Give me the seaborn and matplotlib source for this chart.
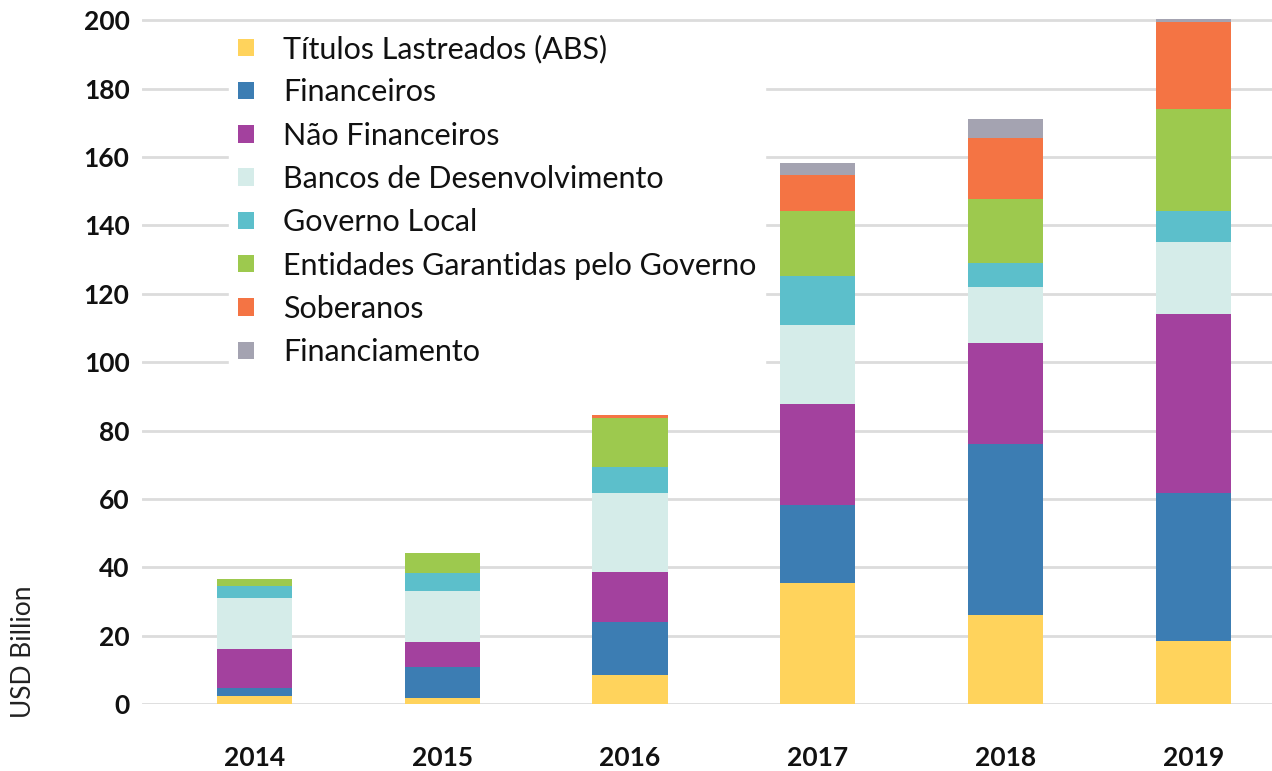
import matplotlib

matplotlib.use("Agg")
import matplotlib.pyplot as plt
import pandas as pd
import seaborn as sns
from matplotlib.patches import Patch


YEARS = ["2014", "2015", "2016", "2017", "2018", "2019"]

CATEGORIES = [
    "Títulos Lastreados (ABS)",
    "Financeiros",
    "Não Financeiros",
    "Bancos de Desenvolvimento",
    "Governo Local",
    "Entidades Garantidas pelo Governo",
    "Soberanos",
    "Financiamento",
]

# USD billion per year, bottom to top of each stack
abs_values = [2.2, 1.9, 8.5, 35.4, 26.0, 18.4]
financeiros = [2.5, 8.8, 15.6, 22.9, 50.0, 43.4]
nao_financeiros = [11.4, 7.3, 14.4, 29.6, 29.6, 52.3]
bancos_desenv = [14.9, 15.0, 23.3, 23.1, 16.3, 21.0]
governo_local = [3.4, 5.2, 7.4, 14.1, 7.0, 9.0]
garantidas_gov = [2.2, 6.1, 14.4, 19.0, 18.9, 30.0]
soberanos = [0.0, 0.0, 1.0, 10.8, 17.7, 25.5]
financiamento = [0.0, 0.0, 0.0, 3.3, 5.7, 0.9]

COLORS = [
    "#FFD35C",
    "#3C7DB3",
    "#A3419E",
    "#D5ECE9",
    "#5CBFCB",
    "#9DC94E",
    "#F47444",
    "#A4A3B1",
]

Y_TICKS = [0, 20, 40, 60, 80, 100, 120, 140, 160, 180, 200]


def build_frame() -> pd.DataFrame:
    series = [abs_values, financeiros, nao_financeiros, bancos_desenv,
              governo_local, garantidas_gov, soberanos, financiamento]
    rows = []
    for cat, vals in zip(CATEGORIES, series):
        for year, v in zip(YEARS, vals):
            rows.append({"year": year, "categoria": cat, "valor": v})
    df = pd.DataFrame(rows)
    df["year"] = pd.Categorical(df["year"], categories=YEARS, ordered=True)
    return df


def main() -> None:
    df = build_frame()

    sns.set_theme(style="white")
    plt.rcParams["font.family"] = ["Lato", "DejaVu Sans"]

    fig = plt.figure(figsize=(12.72, 7.71), dpi=100)
    ax = fig.add_axes([142 / 1272, 67 / 771, 1130 / 1272, 687 / 771])

    # histplot stacks the first hue level on top, so reverse the order
    palette = dict(zip(CATEGORIES, COLORS))
    sns.histplot(
        data=df, x="year", weights="valor", hue="categoria",
        hue_order=CATEGORIES[::-1], palette=palette,
        multiple="stack", discrete=True, shrink=0.4,
        alpha=1, linewidth=0, legend=False, ax=ax, zorder=3,
    )

    ax.set_xlim(-0.6, 5.42)
    ax.set_ylim(0, 201)
    ax.set_yticks(Y_TICKS)
    ax.set_yticklabels([str(t) for t in Y_TICKS])
    ax.set_xticks(range(len(YEARS)))
    ax.set_xticklabels(YEARS)
    ax.set_xlabel("")
    ax.set_ylabel("")

    ax.grid(axis="y", color="#dcdcdc", linewidth=2)
    ax.set_axisbelow(True)
    for spine in ax.spines.values():
        spine.set_visible(False)

    ax.tick_params(axis="y", length=0, pad=9, labelsize=19, labelcolor="#111111")
    ax.tick_params(axis="x", length=0, pad=30, labelsize=19, labelcolor="#111111")
    for lbl in ax.get_xticklabels() + ax.get_yticklabels():
        lbl.set_fontweight("bold")

    fig.text(24 / 1272, 1 - 652 / 771, "USD Billion", rotation=90,
             ha="center", va="center", fontsize=19, color="#222222")

    handles = [Patch(facecolor=c, edgecolor="none") for c in COLORS]
    leg = ax.legend(
        handles, CATEGORIES, loc="upper left",
        bbox_to_anchor=(214 / 1272, 1 - 10 / 771),
        bbox_transform=fig.transFigure,
        frameon=True, fancybox=False, framealpha=1,
        edgecolor="white", facecolor="white",
        fontsize=22, handlelength=0.5, handleheight=0.5,
        handletextpad=0.95, labelspacing=0.5, borderpad=0.3,
    )
    leg.set_zorder(5)
    for t in leg.get_texts():
        t.set_color("#111111")

    fig.savefig("out.png", dpi=100, facecolor="white")
    plt.close(fig)


if __name__ == "__main__":
    main()
